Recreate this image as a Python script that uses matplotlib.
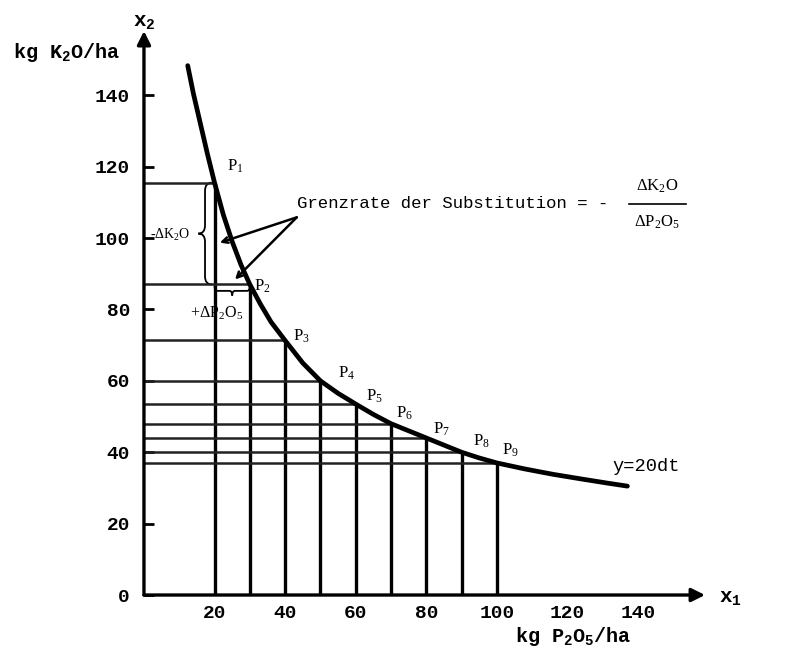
import matplotlib
matplotlib.use("Agg")
import matplotlib.pyplot as plt
from matplotlib.path import Path
from matplotlib.patches import PathPatch

plt.rcParams['font.family'] = ['Liberation Mono', 'DejaVu Sans']
plt.rcParams['mathtext.default'] = 'regular'

# isoquant for a yield of 20 dt
curve_x = [12.4, 14, 16, 18, 20, 22.5, 25, 27.5, 30, 33, 36, 40, 45, 50, 55, 60, 65,
           70, 75, 80, 85, 90, 95, 100, 108, 116, 124, 131, 137]
curve_y = [148.3, 140.5, 132, 123.5, 115.5, 106.5, 99, 92.5, 87, 81.5, 76.5, 71.3, 65, 60,
           56.5, 53.5, 50.6, 48, 46, 44, 42, 40, 38.4, 37, 35.3, 33.8, 32.5, 31.4, 30.5]

# combinations P1..P9 on the isoquant
p_x = [20, 30, 40, 50, 60, 70, 80, 90, 100]
p_y = [115.5, 87, 71.3, 60, 53.5, 48, 44, 40, 37]
p_names = ['P$_1$', 'P$_2$', 'P$_3$', 'P$_4$', 'P$_5$', 'P$_6$', 'P$_7$', 'P$_8$', 'P$_9$']
p_label_pos = [(25.8, 120), (33.5, 86.5), (44.5, 72.5), (57.4, 62), (65.2, 55.6),
               (73.9, 51), (84.3, 46.3), (95.7, 43), (103.7, 40.6)]

y_ticks = [0, 20, 40, 60, 80, 100, 120, 140]
x_ticks = [20, 40, 60, 80, 100, 120, 140]
x_tick_marks = [120, 140]


def brace(ax, a, b, pos, width, vertical=True):
    """Curly brace between a and b; pos is the back, the tip sits width away."""
    m = (a + b) / 2
    d = abs(b - a) * 0.08
    h = pos - width / 2
    t = pos - width
    if vertical:
        pts = [(pos, b), (h, b), (h, b - d), (h, m + d), (h, m), (t, m),
               (h, m), (h, m - d), (h, a + d), (h, a), (pos, a)]
    else:
        pts = [(b, pos), (b, h), (b - d, h), (m + d, h), (m, h), (m, t),
               (m, h), (m - d, h), (a + d, h), (a, h), (a, pos)]
    codes = [Path.MOVETO, Path.CURVE3, Path.CURVE3, Path.LINETO, Path.CURVE3, Path.CURVE3,
             Path.CURVE3, Path.CURVE3, Path.LINETO, Path.CURVE3, Path.CURVE3]
    ax.add_patch(PathPatch(Path(pts, codes), fill=False, lw=1.3, color='black'))


fig = plt.figure(figsize=(7.85, 6.52), dpi=100)
ax = fig.add_axes([0.1834, 0.0874, 0.7417, 0.876])
ax.set_xlim(0, 165)
ax.set_ylim(0, 160)
for s in ax.spines.values():
    s.set_visible(False)

# axes with arrow heads
arrow = dict(arrowstyle='-|>', lw=2.4, color='black', mutation_scale=20, shrinkA=0, shrinkB=0)
ax.annotate('', xy=(159, 0), xytext=(0, 0), arrowprops=arrow, annotation_clip=False)
ax.annotate('', xy=(0, 158), xytext=(0, 0), arrowprops=arrow, annotation_clip=False)

# drop lines from each P to both axes
ax.vlines(p_x, 0, p_y, colors='black', lw=2.4)
ax.hlines(p_y, 0, p_x, colors='#222222', lw=1.8)

ax.plot(curve_x, curve_y, color='black', lw=3.4, solid_capstyle='round', solid_joinstyle='round')

for name, (lx, ly) in zip(p_names, p_label_pos):
    ax.text(lx, ly, name, fontsize=12, ha='center', va='center', family='Liberation Serif')

# ticks
ax.set_yticks(y_ticks)
ax.set_yticklabels([str(v) for v in y_ticks], fontsize=14, fontweight='bold')
ax.tick_params(axis='y', direction='in', length=7, width=2, pad=10)
ax.set_xticks(x_ticks)
ax.set_xticklabels([str(v) for v in x_ticks], fontsize=14, fontweight='bold')
ax.tick_params(axis='x', length=0, pad=7)
ax.set_xticks(x_tick_marks, minor=True)
ax.tick_params(axis='x', which='minor', direction='in', length=8, width=2)

# axis titles
fig.text(13 / 785, 1 - 52 / 652, 'kg K$_2$O/ha', fontsize=14.5, fontweight='bold', va='center')
fig.text(133 / 785, 1 - 22 / 652, 'x$_2$', fontsize=15, fontweight='bold', va='center')
fig.text(515 / 785, 1 - 637 / 652, 'kg P$_2$O$_5$/ha', fontsize=14.5, fontweight='bold', va='center')
fig.text(719 / 785, 1 - 598 / 652, 'x$_1$', fontsize=15, fontweight='bold', va='center')

# differences between P1 and P2
brace(ax, p_y[1], p_y[0], 19.2, 3.8, vertical=True)
ax.text(7.5, 100.8, '-$\\Delta$K$_2$O', fontsize=10, ha='center', va='center', family='Liberation Serif')
brace(ax, p_x[0], p_x[1], p_y[1] - 0.5, 2.6, vertical=False)
ax.text(20.5, 79, '+$\\Delta$P$_2$O$_5$', fontsize=11.5, ha='center', va='center', family='Liberation Serif')

# marginal rate of substitution
ax.text(43.5, 109.8, 'Grenzrate der Substitution = -', fontsize=12.5, ha='left', va='center')
ax.text(145.5, 114.5, '$\\Delta$K$_2$O', fontsize=12, ha='center', va='center', family='Liberation Serif')
ax.text(145.5, 104.5, '$\\Delta$P$_2$O$_5$', fontsize=12, ha='center', va='center', family='Liberation Serif')
ax.plot([137.5, 153.5], [109.6, 109.6], color='black', lw=1.2, clip_on=False)
pointer = dict(arrowstyle='->', lw=1.8, color='black', shrinkA=0, shrinkB=0, mutation_scale=10)
ax.annotate('', xy=(21.5, 98.7), xytext=(43.3, 105.8), arrowprops=pointer)
ax.annotate('', xy=(25.8, 88.4), xytext=(43.3, 105.8), arrowprops=pointer)

ax.text(132.9, 36, 'y=20dt', fontsize=13.5, ha='left', va='center')

fig.savefig('out.png', dpi=100, facecolor='white')
